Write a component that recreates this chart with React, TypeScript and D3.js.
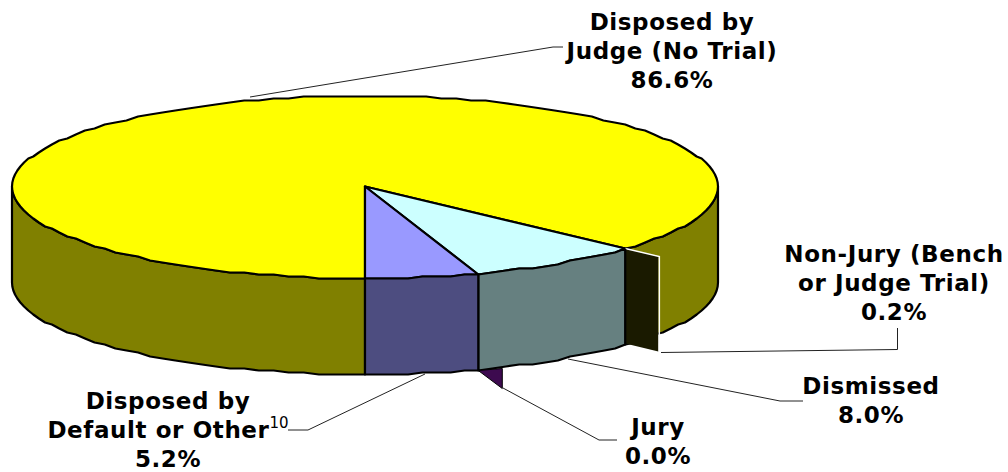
import React from 'react';
import * as d3 from 'd3';

const categories = ['Disposed by Judge (No Trial)', 'Non-Jury (Bench or Judge Trial)', 'Dismissed', 'Jury', 'Disposed by Default or Other'];
const shares = [86.6, 0.2, 8.0, 0.0, 5.2];
const topColors = ['#ffff00', '#1a1a00', '#ccffff', '#660066', '#9999ff'];
const wallColors = ['#808000', '#1a1a00', '#668080', '#3d0a4f', '#4d4d80'];

const cx = 365, cy = 186.5, rx = 353, ry = 91.5, depth = 96;

// pie starts at 6 o'clock and runs clockwise, same as the original
const arcs = d3.pie<number>().sort(null).startAngle(Math.PI).endAngle(3 * Math.PI)(shares);

// the source is a low res metafile so the rim comes out in little steps
const snap = (v: number) => Math.round(v / 2) * 2;
const rim = (a: number, dy = 0): [number, number] => [
  cx + rx * Math.sin(a),
  snap(cy + ry * -Math.cos(a)) + dy + 0.5,
];
const rimRange = (a0: number, a1: number, dy = 0) => {
  const n = Math.max(1, Math.ceil(Math.abs(a1 - a0) / (2.5 * Math.PI / 180)));
  return d3.range(n + 1).map(i => rim(a0 + (a1 - a0) * i / n, dy));
};
const line = d3.line();

const topPath = (a0: number, a1: number) =>
  `${line(rimRange(a0, a1))}L${cx},${cy}Z`;
const wallPath = (a0: number, a1: number) =>
  `${line([...rimRange(a0, a1), ...rimRange(a1, a0, depth)])}Z`;

const lines = [
  { x: 672, y: 30, rows: ['Disposed by', 'Judge (No Trial)', '86.6%'] },
  { x: 894, y: 262, rows: ['Non-Jury (Bench', 'or Judge Trial)', '0.2%'] },
  { x: 871, y: 394, rows: ['Dismissed', '8.0%'] },
  { x: 658, y: 435, rows: ['Jury', '0.0%'] },
  { x: 168, y: 409, rows: ['Disposed by', 'Default or Other', '5.2%'] },
];

const leaders = [
  [[250, 97], [553, 47], [563, 47]],
  [[661, 352.5], [897.5, 349.5], [897.5, 328]],
  [[568, 359], [780, 401], [803, 401]],
  [[503, 388], [599, 440], [617, 440]],
  [[425, 374], [308, 430], [288, 430]],
];

export default function App() {
  const [yellow, nonJury, dismissed, jury, other] = arcs;
  const cut = dismissed.startAngle;
  const njPt = rim(cut);
  const juryPt = rim(jury.startAngle, depth);

  return (
    <svg width={1008} height={472} style={{ position: 'absolute', left: 0, top: 0, background: '#fff' }}>
      <g stroke="#000" strokeWidth={2.2} strokeLinejoin="round">
        {/* only the walls facing us */}
        <path d={wallPath(Math.PI, 1.5 * Math.PI)} fill={wallColors[0]} />
        <path d={wallPath(Math.PI / 2, cut - 2 * Math.PI)} fill={wallColors[0]} />
        <path d={topPath(yellow.startAngle, nonJury.endAngle)} fill={topColors[0]} />
        <path d={topPath(dismissed.startAngle, dismissed.endAngle)} fill={topColors[2]} />
        <path d={topPath(other.startAngle, other.endAngle)} fill={topColors[4]} />
        <path d={wallPath(dismissed.startAngle, dismissed.endAngle)} fill={wallColors[2]} />
        <path d={wallPath(other.startAngle, other.endAngle)} fill={wallColors[4]} />
      </g>
      {/* radial cut face left open by the tiny non-jury slice */}
      <path
        d={`M${njPt[0]},${njPt[1]}l33,8v95l-33,-8Z`}
        fill={wallColors[1]}
      />
      <path
        d={`M${njPt[0]},${njPt[1]}l34,8v95`}
        fill="none"
        stroke="#fff"
        strokeWidth={1.5}
      />
      <line x1={njPt[0]} x2={njPt[0]} y1={njPt[1]} y2={njPt[1] + depth} stroke="#000" strokeWidth={2} />
      {/* jury sliver */}
      <path
        d={`M${juryPt[0]},${juryPt[1]}l24,-2v20Z`}
        fill={wallColors[3]}
        stroke="#000"
        strokeWidth={1}
      />
      <g fill="none" stroke="#222" strokeWidth={1}>
        {leaders.map((l, i) => <path key={i} d={line(l as [number, number][]) as string} />)}
      </g>
      <g fontFamily="'DejaVu Sans', Verdana, sans-serif" fontWeight={700} fontSize={23} letterSpacing={0.6} textAnchor="middle" fill="#000">
        {lines.map((l, i) => (
          <text key={categories[i]} x={l.x} y={l.y}>
            {l.rows.map((r, j) => (
              <tspan key={j} x={l.x} y={l.y + j * 29}>
                {r}
                {i === 4 && j === 1 ? <tspan fontSize={15} fontWeight={400} letterSpacing={0} dy={-10}>10</tspan> : null}
              </tspan>
            ))}
          </text>
        ))}
      </g>
    </svg>
  );
}
